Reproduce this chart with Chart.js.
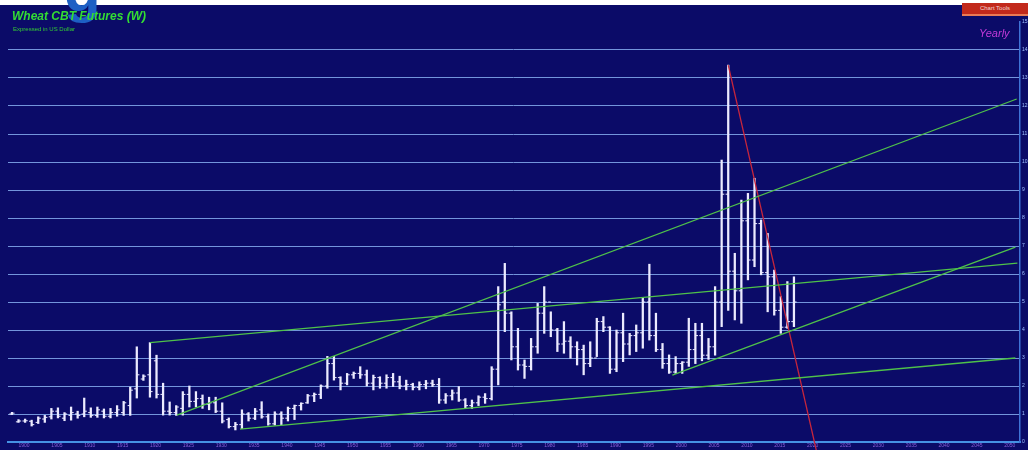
<!DOCTYPE html>
<html>
<head>
<meta charset="utf-8">
<script src="https://cdn.jsdelivr.net/npm/chart.js@4.4.1/dist/chart.umd.min.js"></script>
<style>
  html, body { margin: 0; padding: 0; background: #ffffff; }
  #wrap { position: relative; width: 1028px; height: 450px; background: #0b0b68; overflow: hidden; font-family: "Liberation Sans", Arial, sans-serif; }
  #topstrip { position: absolute; left: 0; top: 0; width: 1028px; height: 5px; background: #ffffff; }
  #hg { position: absolute; left: 64px; top: -44px; line-height: 1; font: bold 60px "Liberation Sans", Arial, sans-serif; color: #1d5fc4; }
  #title { position: absolute; left: 12px; top: 9px; font: italic bold 12px "Liberation Sans", Arial, sans-serif; color: #33dd33; white-space: nowrap; }
  #sub { position: absolute; left: 13px; top: 26px; font: 6px "Liberation Sans", Arial, sans-serif; color: #33cc33; white-space: nowrap; }
  #tools { position: absolute; left: 962px; top: 3px; width: 66px; height: 11px; background: #c2291b; border-bottom: 2px solid #ea7a55; color: #f3d6d0; font: 6px "Liberation Sans", Arial, sans-serif; text-align: center; line-height: 11px; }
  #yearly { position: absolute; left: 979px; top: 27px; font: italic 11px "Liberation Sans", Arial, sans-serif; color: #c23ad8; }
  canvas { position: absolute; left: 0; top: 0; }
</style>
</head>
<body>
<div id="wrap">
  <canvas id="c" width="1028" height="450"></canvas>
  <div id="topstrip"></div>
  <div id="hg">g</div>
  <div id="title">Wheat CBT Futures (W)</div>
  <div id="sub">Expressed in US Dollar</div>
  <div id="tools">Chart Tools</div>
  <div id="yearly">Yearly</div>
</div>
<script>
// ---- data (yearly OHLC, US$ per bushel) ----
const years = [1899,1900,1901,1902,1903,1904,1905,1906,1907,1908,1909,1910,1911,1912,1913,1914,1915,1916,1917,1918,1919,
  1920,1921,1922,1923,1924,1925,1926,1927,1928,1929,1930,1931,1932,1933,1934,1935,1936,1937,1938,1939,
  1940,1941,1942,1943,1944,1945,1946,1947,1948,1949,1950,1951,1952,1953,1954,1955,1956,1957,1958,1959,
  1960,1961,1962,1963,1964,1965,1966,1967,1968,1969,1970,1971,1972,1973,1974,1975,1976,1977,1978,1979,
  1980,1981,1982,1983,1984,1985,1986,1987,1988,1989,1990,1991,1992,1993,1994,1995,1996,1997,1998,1999,
  2000,2001,2002,2003,2004,2005,2006,2007,2008,2009,2010,2011,2012,2013,2014,2015,2016,2017,2018];
const highs = [1.06,0.80,0.82,0.78,0.90,0.95,1.20,1.22,1.05,1.25,1.10,1.57,1.22,1.25,1.18,1.20,1.30,1.45,1.96,3.40,2.40,
  3.55,3.10,2.10,1.43,1.30,1.80,2.00,1.80,1.68,1.60,1.60,1.40,0.86,0.70,1.15,1.05,1.20,1.44,1.00,1.08,
  1.08,1.25,1.32,1.40,1.70,1.75,2.04,3.06,3.06,2.33,2.45,2.50,2.69,2.57,2.39,2.33,2.40,2.45,2.35,2.21,
  2.10,2.15,2.20,2.21,2.27,1.73,1.86,1.98,1.55,1.50,1.65,1.73,2.69,5.55,6.38,4.65,4.06,2.93,3.70,4.95,
  5.55,4.65,4.06,4.30,3.76,3.58,3.46,3.58,4.42,4.48,4.12,4.00,4.60,3.88,4.18,5.13,6.35,4.60,3.52,3.11,
  3.05,2.87,4.42,4.24,4.24,3.70,5.55,10.07,13.46,6.74,8.64,8.88,9.42,7.93,7.45,6.14,5.19,5.73,5.90];
const lows = [0.98,0.70,0.70,0.57,0.66,0.70,0.82,0.86,0.76,0.78,0.85,0.90,0.88,0.88,0.86,0.86,0.92,0.95,0.95,1.57,2.20,
  1.60,1.57,0.96,0.96,0.95,0.96,1.25,1.25,1.20,1.15,1.05,0.68,0.50,0.43,0.48,0.75,0.80,0.85,0.60,0.60,
  0.62,0.75,0.80,1.14,1.38,1.44,1.55,1.92,2.21,1.86,2.04,2.27,2.27,2.00,1.86,1.92,1.92,1.98,1.90,1.86,
  1.86,1.86,1.90,1.98,1.38,1.38,1.50,1.45,1.20,1.20,1.30,1.38,1.50,2.04,3.94,2.93,2.57,2.27,2.57,3.17,
  3.88,3.76,3.23,3.17,2.99,2.75,2.40,2.69,3.05,3.94,2.45,2.51,2.87,3.11,3.23,3.35,3.64,3.23,2.63,2.45,
  2.45,2.45,2.70,2.80,2.90,2.95,3.10,4.12,4.70,4.36,4.24,5.79,6.26,5.97,4.65,4.53,3.88,4.06,4.12];
const opens = [1.00,0.72,0.75,0.74,0.70,0.82,0.90,1.10,0.85,0.95,1.00,1.00,1.05,0.95,1.10,0.92,1.05,1.05,1.30,1.90,2.25,
  2.40,2.90,1.70,1.10,1.05,1.20,1.70,1.45,1.55,1.35,1.40,1.10,0.80,0.55,0.62,1.00,0.85,1.15,0.90,0.65,
  1.00,0.85,1.20,1.30,1.40,1.65,1.70,2.00,2.80,2.30,2.10,2.40,2.45,2.40,2.10,2.30,2.10,2.30,2.15,2.00,
  2.05,1.95,2.05,2.10,2.05,1.50,1.65,1.75,1.50,1.30,1.40,1.60,1.55,2.60,5.00,4.60,3.40,2.75,2.70,3.40,
  4.60,5.00,4.00,3.50,3.60,3.40,3.30,2.80,3.00,4.30,4.10,2.60,3.90,3.50,3.80,3.90,5.00,3.80,3.30,2.80,
  2.50,2.80,2.85,3.30,3.80,3.10,3.40,5.00,8.85,6.10,5.40,7.90,6.50,7.80,6.05,5.90,4.70,4.10,4.30];
const closes = [1.03,0.75,0.76,0.62,0.85,0.88,1.10,0.92,1.00,1.05,0.95,1.10,0.95,1.15,0.92,1.05,1.15,1.40,1.85,2.40,2.35,
  1.80,1.70,1.10,1.05,1.25,1.70,1.45,1.55,1.35,1.40,1.10,0.75,0.55,0.62,1.00,0.85,1.10,0.90,0.65,1.00,
  0.85,1.20,1.30,1.38,1.65,1.70,2.00,2.80,2.30,2.10,2.40,2.45,2.40,2.10,2.30,2.10,2.30,2.15,2.00,2.05,
  1.95,2.05,2.10,2.05,1.50,1.65,1.75,1.50,1.30,1.40,1.60,1.55,2.60,4.90,4.60,3.40,2.75,2.70,3.40,4.60,
  5.00,4.00,3.50,3.60,3.40,3.30,2.80,3.00,4.30,4.10,2.60,3.90,3.50,3.80,3.90,5.00,3.80,3.30,2.80,2.50,
  2.80,2.85,3.30,3.80,3.10,3.40,5.00,8.85,6.10,5.40,7.90,6.50,7.80,6.05,5.90,4.70,4.10,4.30,5.00];

// axis ticks
const xTickYears = [1900,1905,1910,1915,1920,1925,1930,1935,1940,1945,1950,1955,1960,1965,1970,1975,1980,1985,1990,1995,2000,2005,2010,2015,2020,2025,2030,2035,2040,2045,2050];
const yTickValues = [0,1,2,3,4,5,6,7,8,9,10,11,12,13,14,15];

// trend lines drawn on the chart: [year, price] endpoints
const trendTop = [[1920, 3.55], [2052, 6.39]];
const trendChannelUpper = [[1924.1, 0.96], [2051.9, 12.25]];
const trendBase = [[1933.7, 0.46], [2051.7, 3.0]];
const trendChannelLower = [[1999.5, 2.39], [2051.7, 6.96]];
const trendRed = [[2008, 13.46], [2021.4, -0.29]];

const toPts = a => a.map(p => ({x: p[0], y: p[1]}));
const greenLine = (pts) => ({
  type: 'line', data: toPts(pts), borderColor: '#4fc24a', borderWidth: 1.3,
  pointRadius: 0, order: 0, clip: false
});

const chart = new Chart(document.getElementById('c'), {
  type: 'bar',
  data: {
    datasets: [
      { type: 'bar', data: years.map((y, i) => ({x: y, y: [lows[i], highs[i]]})),
        backgroundColor: '#ecebff', borderWidth: 0, barThickness: 1.6, order: 3 },
      { type: 'scatter', data: years.map((y, i) => ({x: y - 0.2, y: opens[i]})),
        pointStyle: 'line', radius: 1.3, borderColor: '#ecebff', borderWidth: 1, order: 2 },
      { type: 'scatter', data: years.map((y, i) => ({x: y + 0.2, y: closes[i]})),
        pointStyle: 'line', radius: 1.3, borderColor: '#ecebff', borderWidth: 1, order: 2 },
      greenLine(trendTop),
      greenLine(trendChannelUpper),
      greenLine(trendBase),
      greenLine(trendChannelLower),
      { type: 'line', data: toPts(trendRed), borderColor: '#c8263c', borderWidth: 1.3,
        pointRadius: 0, order: 0, clip: false }
    ]
  },
  options: {
    responsive: false,
    animation: false,
    events: [],
    layout: { padding: { left: 8, top: 22, right: 0, bottom: 0 } },
    plugins: { legend: { display: false }, tooltip: { enabled: false }, title: { display: false } },
    scales: {
      x: {
        type: 'linear', position: 'bottom', min: 1898.4, max: 2052.4, offset: false,
        grid: { display: false, drawTicks: false },
        border: { display: true, color: '#4592e4', width: 2 },
        afterBuildTicks: (s) => { s.ticks = xTickYears.map(v => ({value: v})); },
        afterFit: (s) => { s.height = 8; },
        ticks: { autoSkip: false, maxRotation: 0, align: 'start', padding: 1,
          color: '#8a5fd6', font: { size: 5, family: 'Liberation Sans' },
          callback: (v) => String(v) }
      },
      y: {
        type: 'linear', position: 'right', min: 0, max: 15,
        afterBuildTicks: (s) => { s.ticks = yTickValues.map(v => ({value: v})); },
        afterFit: (s) => { s.width = 8; },
        grid: { drawTicks: false, lineWidth: 1,
          color: (ctx) => (ctx.tick && (ctx.tick.value === 15 || ctx.tick.value === 0)) ? 'rgba(0,0,0,0)' : '#7395dc' },
        border: { display: true, color: '#3f73d6', width: 1.5 },
        ticks: { padding: 2, color: '#9fc0ff', font: { size: 5, family: 'Liberation Sans' },
          callback: (v) => String(v) }
      }
    }
  }
});
</script>
</body>
</html>
